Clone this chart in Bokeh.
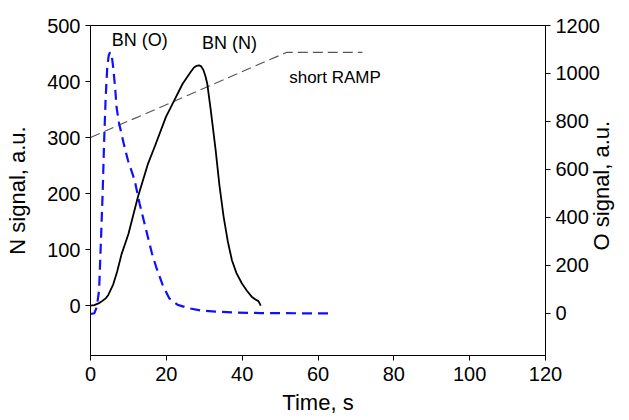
import math
from bokeh.plotting import figure
from bokeh.models import Range1d, LinearAxis, FixedTicker
from bokeh.embed import file_html
from bokeh.resources import INLINE
from bokeh.core.properties import value

# ---- data ----
# BN (N) signal, left axis
t_n = [0, 1, 2.1, 3, 4, 4.7, 6, 7, 8.2, 10, 12.5, 15.1, 17, 19.9, 22, 24.3, 26.5,
       27.3, 28, 28.6, 29.2, 29.8, 30.3, 30.8, 31.7, 33, 34, 35.1, 36.2, 37.3,
       38.5, 39.9, 41.2, 42.5, 43.5, 44.3, 44.9]
n_sig = [0, 1, 4, 8, 13, 19, 38, 60, 92, 128, 194, 252, 285, 337, 365, 396, 418,
         425, 428, 429, 427, 420, 410, 396, 350, 278, 215, 159, 115, 81,
         58, 40, 27, 16, 11, 8, 0]

# BN (O) signal, right axis
t_o = [0, 1, 1.67, 2.27, 2.79, 3.2, 3.6, 4.0, 4.4, 4.8, 5.14, 5.6, 6.0, 6.5, 6.89,
       7.5, 8.19, 9.0, 9.91, 10.8, 11.66, 12.97, 14, 15.13, 16.2, 17.32, 19.05,
       20.8, 23, 26, 29, 33, 38, 45, 55, 63]
o_sig = [-3, 0, 27, 97, 318, 500, 720, 900, 1020, 1075, 1088, 1075, 1023, 940, 857,
         795, 747, 692, 636, 595, 553, 456, 390, 318, 250, 193, 117,
         62, 35, 21, 12, 7, 3, 1, 0, 0]

# short RAMP, left axis
t_ramp = [0, 51.7, 71.7]
ramp = [300, 452, 452]

x_ticks = [0, 20, 40, 60, 80, 100, 120]
n_ticks = [0, 100, 200, 300, 400, 500]
o_ticks = [0, 200, 400, 600, 800, 1000, 1200]

labels = ["BN (O)", "BN (N)", "short RAMP"]
label_t = [5.6, 29.4, 52.4]
label_n = [474, 468, 407]

o_title_text = "O signal, a.u."
o_title_at = 262  # O-axis value where the right title starts (reads upward)

FONT = "Liberation Sans"
W, H = 629, 420
BL, BR, BT, BB = 90, 78, 25, 65

p = figure(width=W, height=H, output_backend="svg", toolbar_location=None,
           x_range=Range1d(0, 120), y_range=Range1d(-89, 500),
           min_border_left=BL, min_border_right=BR,
           min_border_top=BT, min_border_bottom=BB)
p.extra_y_ranges = {"o": Range1d(-176, 1200)}
p.grid.visible = False
p.outline_line_color = "black"
p.outline_line_width = 1
p.background_fill_color = "white"
p.border_fill_color = "white"

right = LinearAxis(y_range_name="o")
p.add_layout(right, "right")

# outer right "axis" carrying only the title, rotated to read bottom-to-top
right_title = LinearAxis(y_range_name="o",
                         ticker=FixedTicker(ticks=[o_title_at]),
                         major_label_overrides={o_title_at: o_title_text},
                         major_label_orientation=math.pi / 2)
p.add_layout(right_title, "right")

p.xaxis.ticker = FixedTicker(ticks=x_ticks)
p.yaxis[0].ticker = FixedTicker(ticks=n_ticks)
right.ticker = FixedTicker(ticks=o_ticks)
p.xaxis.axis_label = "Time, s"
p.yaxis[0].axis_label = "N signal, a.u."

for ax in p.axis:
    ax.axis_line_color = "black"
    ax.major_tick_line_color = "black"
    ax.major_tick_out = 5
    ax.major_tick_in = 0
    ax.minor_tick_line_color = None
    ax.major_label_text_font = FONT
    ax.major_label_text_font_size = "20px"
    ax.major_label_text_color = "black"
    ax.axis_label_text_font = FONT
    ax.axis_label_text_font_size = "22px"
    ax.axis_label_text_font_style = "normal"
    ax.axis_label_text_color = "black"

p.xaxis.major_label_standoff = 6
p.xaxis.axis_label_standoff = 6
p.yaxis[0].major_label_standoff = 5
p.yaxis[0].axis_label_standoff = 14
right.major_label_standoff = 5

right_title.axis_line_color = None
right_title.major_tick_line_color = None
right_title.major_tick_out = 0
right_title.major_label_standoff = -1
right_title.major_label_text_font_size = "22px"

p.line(t_ramp, ramp, line_color="#555555", line_width=1.1, line_dash="10 5")
p.line(t_n, n_sig, line_color="black", line_width=1.8)
p.line(t_o, o_sig, y_range_name="o", line_color="#1010ff", line_width=2.2,
       line_dash="10 6")

p.text(x=label_t[:2], y=label_n[:2], text=labels[:2], text_font=value(FONT),
       text_font_size="18px", text_baseline="middle", text_align="left",
       text_color="black")
p.text(x=label_t[2:], y=label_n[2:], text=labels[2:], text_font=value(FONT),
       text_font_size="17px", text_baseline="middle", text_align="left",
       text_color="black")

open("out.html", "w").write(file_html(p, INLINE))
